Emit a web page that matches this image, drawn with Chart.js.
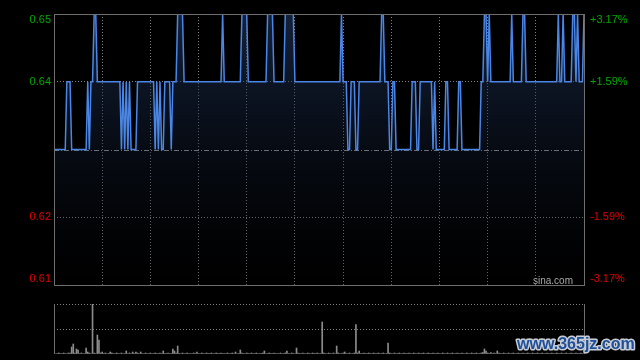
<!DOCTYPE html>
<html>
<head>
<meta charset="utf-8">
<script src="https://cdn.jsdelivr.net/npm/chart.js@4.4.0/dist/chart.umd.min.js"></script>
<style>
  body { margin: 0; background: #000; width: 640px; height: 360px; overflow: hidden; position: relative; }
  #price { position: absolute; left: 0; top: 0; }
  #vol { position: absolute; left: 0; top: 290px; }
</style>
</head>
<body>
<canvas id="price" width="640" height="290"></canvas>
<canvas id="vol" width="640" height="70"></canvas>
<script>
// minute prices, 09:30 - 16:00 (331 points)
const prices = [
  0.63, 0.63, 0.63, 0.63, 0.63, 0.63, 0.63, 0.63, 0.64, 0.64,
  0.64, 0.63, 0.63, 0.63, 0.63, 0.63, 0.63, 0.63, 0.63, 0.63,
  0.63, 0.64, 0.63, 0.64, 0.64, 0.65, 0.65, 0.64, 0.64, 0.64,
  0.64, 0.64, 0.64, 0.64, 0.64, 0.64, 0.64, 0.64, 0.64, 0.64,
  0.64, 0.64, 0.63, 0.64, 0.63, 0.64, 0.63, 0.64, 0.63, 0.63,
  0.63, 0.63, 0.64, 0.64, 0.64, 0.64, 0.64, 0.64, 0.64, 0.64,
  0.64, 0.64, 0.64, 0.63, 0.64, 0.63, 0.64, 0.63, 0.63, 0.64,
  0.64, 0.64, 0.64, 0.63, 0.64, 0.64, 0.64, 0.65, 0.65, 0.65,
  0.65, 0.64, 0.64, 0.64, 0.64, 0.64, 0.64, 0.64, 0.64, 0.64,
  0.64, 0.64, 0.64, 0.64, 0.64, 0.64, 0.64, 0.64, 0.64, 0.64,
  0.64, 0.64, 0.64, 0.64, 0.64, 0.65, 0.64, 0.64, 0.64, 0.64,
  0.64, 0.64, 0.64, 0.64, 0.64, 0.64, 0.64, 0.65, 0.65, 0.65,
  0.65, 0.64, 0.64, 0.64, 0.64, 0.64, 0.64, 0.64, 0.64, 0.64,
  0.64, 0.64, 0.64, 0.65, 0.65, 0.65, 0.65, 0.64, 0.64, 0.64,
  0.64, 0.64, 0.64, 0.64, 0.65, 0.65, 0.65, 0.65, 0.65, 0.65,
  0.64, 0.64, 0.64, 0.64, 0.64, 0.64, 0.64, 0.64, 0.64, 0.64,
  0.64, 0.64, 0.64, 0.64, 0.64, 0.64, 0.64, 0.64, 0.64, 0.64,
  0.64, 0.64, 0.64, 0.64, 0.64, 0.64, 0.64, 0.64, 0.64, 0.65,
  0.64, 0.64, 0.64, 0.63, 0.63, 0.64, 0.64, 0.64, 0.63, 0.63,
  0.64, 0.64, 0.64, 0.64, 0.64, 0.64, 0.64, 0.64, 0.64, 0.64,
  0.64, 0.64, 0.64, 0.64, 0.65, 0.65, 0.64, 0.64, 0.64, 0.63,
  0.63, 0.64, 0.64, 0.63, 0.63, 0.63, 0.63, 0.63, 0.63, 0.63,
  0.63, 0.63, 0.63, 0.64, 0.64, 0.64, 0.63, 0.63, 0.64, 0.64,
  0.64, 0.64, 0.64, 0.64, 0.64, 0.64, 0.63, 0.64, 0.63, 0.63,
  0.63, 0.63, 0.63, 0.63, 0.64, 0.64, 0.63, 0.63, 0.63, 0.63,
  0.63, 0.63, 0.64, 0.64, 0.63, 0.63, 0.63, 0.63, 0.63, 0.63,
  0.63, 0.63, 0.63, 0.63, 0.63, 0.63, 0.64, 0.64, 0.65, 0.65,
  0.64, 0.65, 0.64, 0.64, 0.64, 0.64, 0.64, 0.64, 0.64, 0.64,
  0.64, 0.64, 0.64, 0.64, 0.64, 0.65, 0.64, 0.64, 0.64, 0.64,
  0.64, 0.64, 0.65, 0.65, 0.64, 0.64, 0.64, 0.64, 0.64, 0.64,
  0.64, 0.64, 0.64, 0.64, 0.64, 0.64, 0.64, 0.64, 0.64, 0.64,
  0.64, 0.64, 0.64, 0.64, 0.65, 0.64, 0.64, 0.65, 0.64, 0.64,
  0.64, 0.64, 0.64, 0.65, 0.65, 0.64, 0.65, 0.64, 0.64, 0.64,
  0.65
];

// minute volumes (relative units, panel top = 100)
const volumes = [
  1, 0, 1, 2, 1, 1, 2, 1, 1, 2,
  2, 14, 20, 2, 10, 8, 1, 2, 1, 1,
  12, 4, 2, 1, 100, 2, 1, 38, 28, 2,
  4, 1, 2, 1, 1, 4, 2, 1, 1, 2,
  1, 1, 2, 1, 1, 6, 1, 2, 1, 4,
  1, 4, 2, 1, 4, 1, 1, 2, 1, 1,
  2, 1, 1, 2, 1, 1, 2, 1, 6, 1,
  1, 2, 1, 1, 10, 6, 2, 16, 1, 1,
  2, 1, 1, 2, 1, 1, 1, 2, 1, 4,
  1, 1, 2, 1, 1, 2, 1, 1, 2, 1,
  1, 2, 1, 1, 2, 1, 1, 1, 2, 1,
  1, 2, 1, 4, 1, 1, 8, 2, 1, 1,
  2, 1, 1, 2, 1, 1, 2, 1, 1, 1,
  2, 6, 1, 1, 2, 1, 1, 2, 1, 1,
  1, 2, 1, 1, 2, 6, 1, 1, 2, 1,
  1, 12, 2, 1, 1, 2, 1, 1, 2, 1,
  1, 2, 1, 1, 2, 1, 1, 64, 2, 1,
  1, 2, 1, 1, 2, 1, 16, 2, 1, 1,
  2, 4, 1, 1, 2, 1, 1, 2, 59, 2,
  6, 1, 1, 2, 1, 1, 2, 1, 1, 2,
  1, 1, 2, 1, 1, 2, 1, 1, 22, 2,
  1, 1, 2, 1, 1, 2, 1, 1, 2, 1,
  1, 2, 1, 1, 2, 1, 1, 2, 1, 1,
  2, 1, 1, 2, 1, 1, 2, 1, 1, 2,
  1, 1, 2, 1, 1, 2, 1, 1, 2, 1,
  1, 2, 1, 1, 2, 1, 1, 2, 1, 1,
  2, 1, 1, 2, 1, 1, 2, 3, 10, 6,
  2, 1, 3, 1, 2, 1, 6, 2, 1, 1,
  2, 1, 1, 2, 1, 1, 2, 1, 1, 2,
  1, 1, 2, 1, 1, 2, 1, 1, 2, 1,
  1, 2, 1, 1, 2, 1, 1, 2, 1, 1,
  2, 1, 1, 2, 1, 1, 2, 1, 1, 2,
  1, 1, 2, 1, 1, 2, 1, 1, 2, 1,
  1
];

const prevClose = 0.63;
const priceTicks = [0.65, 0.64, 0.62, 0.61];
const priceLabels = ["0.65", "0.64", "0.62", "0.61"];
const pctLabels = ["+3.17%", "+1.59%", "-1.59%", "-3.17%"];

const GREEN = "#00a800";
const RED = "#e00000";
const FRAME = "#6e6e6e";
const GRID = "#808080";

// box, previous close line and side labels for the price panel
const priceFrame = {
  id: "priceFrame",
  beforeDatasetsDraw(chart) {
    const { ctx, chartArea: a, scales: { y } } = chart;
    const yc = Math.round(y.getPixelForValue(prevClose)) + 0.5;
    ctx.save();
    ctx.strokeStyle = "#a0a0a0";
    ctx.lineWidth = 1;
    ctx.setLineDash([5, 2, 1, 2]);
    ctx.beginPath();
    ctx.moveTo(a.left, yc);
    ctx.lineTo(a.right, yc);
    ctx.stroke();
    ctx.restore();
  },
  afterDraw(chart) {
    const { ctx, chartArea: a, scales: { y } } = chart;
    ctx.save();
    ctx.strokeStyle = FRAME;
    ctx.lineWidth = 1;
    ctx.strokeRect(Math.round(a.left) + 0.5, Math.round(a.top) + 0.5,
      Math.round(a.right - a.left), Math.round(a.bottom - a.top));
    ctx.font = "11px 'Liberation Sans', Arial, sans-serif";
    ctx.textBaseline = "middle";
    priceTicks.forEach((v, i) => {
      let py = y.getPixelForValue(v);
      py = Math.min(Math.max(py, a.top + 6), a.bottom - 6.5);
      ctx.fillStyle = v > prevClose ? GREEN : RED;
      ctx.textAlign = "right";
      ctx.fillText(priceLabels[i], a.left - 3, py);
      ctx.textAlign = "left";
      ctx.fillText(pctLabels[i], a.right + 6, py);
    });
    ctx.fillStyle = "#a8a8a8";
    ctx.font = "10px 'Liberation Sans', Arial, sans-serif";
    ctx.textAlign = "right";
    ctx.textBaseline = "alphabetic";
    ctx.fillText("sina.com", a.right - 11, a.bottom - 1.5);
    ctx.restore();
  }
};

new Chart(document.getElementById("price"), {
  type: "line",
  data: {
    datasets: [{
      data: prices.map((v, i) => ({ x: i, y: v })),
      borderColor: "#4a86e6",
      borderWidth: 1.5,
      pointRadius: 0,
      tension: 0,
      fill: "start",
      backgroundColor: (c) => {
        const a = c.chart.chartArea;
        if (!a) return "rgba(0,0,0,0)";
        const g = c.chart.ctx.createLinearGradient(0, a.top, 0, a.bottom);
        g.addColorStop(0, "rgba(36,60,104,0.55)");
        g.addColorStop(1, "rgba(0,0,0,0.2)");
        return g;
      }
    }]
  },
  options: {
    responsive: false,
    animation: false,
    devicePixelRatio: 1,
    layout: { padding: { left: 54, right: 56, top: 14, bottom: 5 } },
    plugins: { legend: { display: false }, tooltip: { enabled: false } },
    scales: {
      x: {
        type: "linear", min: 0, max: 330,
        ticks: { display: false, stepSize: 30 },
        grid: {
          drawTicks: false,
          color: (c) => (c.tick.value <= 0 || c.tick.value >= 330) ? "rgba(0,0,0,0)" : GRID
        },
        border: { display: false, dash: [1, 2] }
      },
      y: {
        min: 0.61, max: 0.65,
        ticks: { display: false, stepSize: 0.01 },
        grid: {
          drawTicks: false,
          color: (c) => {
            const v = c.tick.value;
            if (v <= 0.6101 || v >= 0.6499 || Math.abs(v - prevClose) < 1e-4) return "rgba(0,0,0,0)";
            return GRID;
          }
        },
        border: { display: false, dash: [1, 2] }
      }
    }
  },
  plugins: [priceFrame]
});

// side borders of the volume panel and the site mark
const volFrame = {
  id: "volFrame",
  afterDraw(chart) {
    const { ctx, chartArea: a } = chart;
    ctx.save();
    ctx.strokeStyle = FRAME;
    ctx.lineWidth = 1;
    ctx.beginPath();
    ctx.moveTo(Math.round(a.left) + 0.5, a.top);
    ctx.lineTo(Math.round(a.left) + 0.5, a.bottom);
    ctx.moveTo(Math.round(a.right) + 0.5, a.top);
    ctx.lineTo(Math.round(a.right) + 0.5, a.bottom);
    ctx.stroke();
    ctx.font = "bold 16px 'Liberation Sans', Arial, sans-serif";
    ctx.textAlign = "left";
    ctx.textBaseline = "alphabetic";
    ctx.lineJoin = "round";
    ctx.lineWidth = 3;
    ctx.strokeStyle = "#c8ccd4";
    ctx.strokeText("www.365jz.com", 517, 59);
    ctx.fillStyle = "#1f4f98";
    ctx.fillText("www.365jz.com", 517, 59);
    ctx.restore();
  }
};

new Chart(document.getElementById("vol"), {
  type: "bar",
  data: {
    datasets: [{
      data: volumes.map((v, i) => ({ x: i, y: v })),
      backgroundColor: "#8c8c8c",
      barThickness: 1,
      grouped: false
    }]
  },
  options: {
    responsive: false,
    animation: false,
    devicePixelRatio: 1,
    layout: { padding: { left: 54, right: 56, top: 14, bottom: 6 } },
    plugins: { legend: { display: false }, tooltip: { enabled: false } },
    scales: {
      x: {
        type: "linear", min: 0, max: 330, offset: false,
        ticks: { display: false },
        grid: { display: false, drawTicks: false },
        border: { display: false }
      },
      y: {
        min: 0, max: 100,
        ticks: { display: false, stepSize: 50 },
        grid: {
          drawTicks: false,
          color: (c) => c.tick.value <= 0 ? "rgba(0,0,0,0)" : GRID
        },
        border: { display: false, dash: [1, 2] }
      }
    }
  },
  plugins: [volFrame]
});
</script>
</body>
</html>
